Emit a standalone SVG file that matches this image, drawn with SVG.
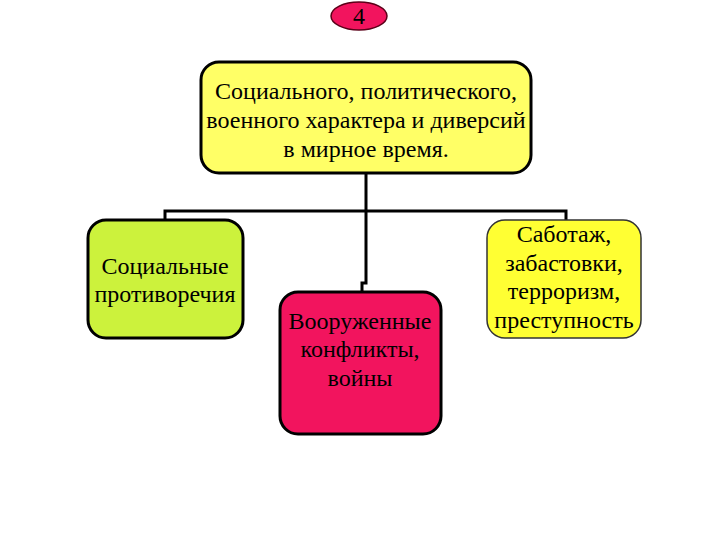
<svg xmlns="http://www.w3.org/2000/svg" width="720" height="540" viewBox="0 0 720 540">
<style>
text{font-family:"Liberation Serif","Times New Roman",serif;font-size:24px;fill:#000;text-anchor:middle}
.box{stroke:#000;stroke-width:3}
.conn{fill:none;stroke:#000;stroke-width:3}
</style>
<rect width="720" height="540" fill="#fff"/>
<g id="badge">
<ellipse cx="359" cy="16" rx="28" ry="14" fill="#F2145E" stroke="#5a0018" stroke-width="1.5"/>
<text x="359" y="24" font-size="21">4</text>
</g>
<g id="connectors">
<path class="conn" d="M366 173 V283 H362 V292"/>
<path class="conn" d="M165 222 V211 H566 V222"/>
</g>
<g id="top">
<rect class="box" x="201" y="62" width="330" height="111" rx="18" fill="#FFFF66"/>
<text x="366" y="99">Социального, политического,</text>
<text x="366" y="128">военного характера и диверсий</text>
<text x="366" y="157">в мирное время.</text>
</g>
<g id="left">
<rect class="box" x="88" y="220" width="155" height="118" rx="18" fill="#CCF23C"/>
<text x="165" y="274">Социальные</text>
<text x="165" y="302">противоречия</text>
</g>
<g id="middle">
<rect class="box" x="280" y="292" width="161" height="142" rx="18" fill="#F2145E" stroke="#2a0008"/>
<text x="360" y="329">Вооруженные</text>
<text x="360" y="357">конфликты,</text>
<text x="360" y="386">войны</text>
</g>
<g id="right">
<rect x="487" y="220" width="154" height="118" rx="18" fill="#FFFF33" stroke="#333" stroke-width="1.5"/>
<text x="564" y="242">Саботаж,</text>
<text x="564" y="271">забастовки,</text>
<text x="564" y="299">терроризм,</text>
<text x="564" y="328">преступность</text>
</g>
</svg>
